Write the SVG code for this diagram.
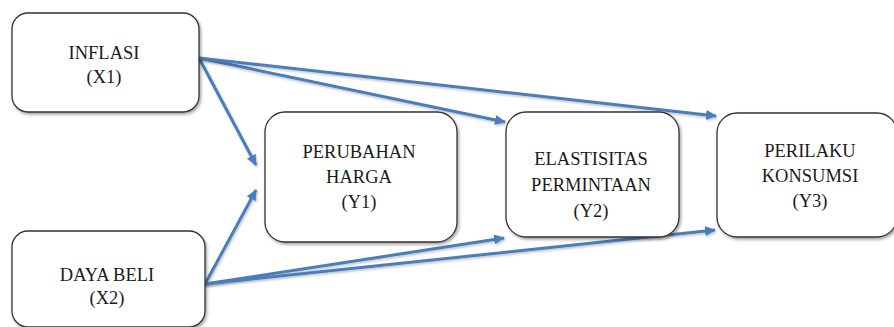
<svg xmlns="http://www.w3.org/2000/svg" width="894" height="327" viewBox="0 0 894 327">
<style>
.box{fill:#fff;stroke:#333;stroke-width:1.3;filter:url(#sh)}
.lbl{font-family:"Liberation Serif","Times New Roman",serif;font-size:18.5px;fill:#1a1a1a;text-anchor:middle}
.con{stroke:#4a7ebb;stroke-width:3;fill:none;marker-end:url(#ah);filter:url(#sh2)}
</style>
<defs>
<filter id="sh" x="-10%" y="-10%" width="130%" height="130%">
<feDropShadow dx="1.5" dy="2" stdDeviation="1.5" flood-color="#000" flood-opacity="0.35"/>
</filter>
<filter id="sh2" x="-10%" y="-10%" width="130%" height="130%">
<feDropShadow dx="1" dy="1.5" stdDeviation="1" flood-color="#000" flood-opacity="0.25"/>
</filter>
<marker id="ah" markerUnits="userSpaceOnUse" markerWidth="12" markerHeight="10" refX="10" refY="5" orient="auto">
<path d="M0,0 L11,5 L0,10 z" fill="#4a7ebb"/>
</marker>
</defs>
<g id="connectors">
<line class="con" x1="199" y1="58" x2="256" y2="165"/>
<line class="con" x1="199" y1="58" x2="505" y2="122"/>
<line class="con" x1="199" y1="58" x2="716" y2="116"/>
<line class="con" x1="205" y1="284" x2="256" y2="190"/>
<line class="con" x1="205" y1="284" x2="504" y2="238"/>
<line class="con" x1="205" y1="284" x2="715" y2="230"/>
</g>
<g id="inflasi">
<rect class="box" x="12" y="13" width="187" height="99" rx="16"/>
<text class="lbl" x="104" y="59">INFLASI</text>
<text class="lbl" x="104" y="83">(X1)</text>
</g>
<g id="dayabeli">
<rect class="box" x="12" y="231" width="193" height="96" rx="16"/>
<text class="lbl" x="107" y="281">DAYA BELI</text>
<text class="lbl" x="107" y="304">(X2)</text>
</g>
<g id="perubahan">
<rect class="box" x="265" y="112" width="192" height="130" rx="20"/>
<text class="lbl" x="359" y="158">PERUBAHAN</text>
<text class="lbl" x="359" y="183">HARGA</text>
<text class="lbl" x="359" y="208">(Y1)</text>
</g>
<g id="elastisitas">
<rect class="box" x="506" y="112" width="173" height="125" rx="20"/>
<text class="lbl" x="591" y="165">ELASTISITAS</text>
<text class="lbl" x="591" y="191">PERMINTAAN</text>
<text class="lbl" x="591" y="217">(Y2)</text>
</g>
<g id="perilaku">
<rect class="box" x="717" y="113" width="180" height="124" rx="20"/>
<text class="lbl" x="810" y="157">PERILAKU</text>
<text class="lbl" x="810" y="182">KONSUMSI</text>
<text class="lbl" x="810" y="207">(Y3)</text>
</g>
</svg>
